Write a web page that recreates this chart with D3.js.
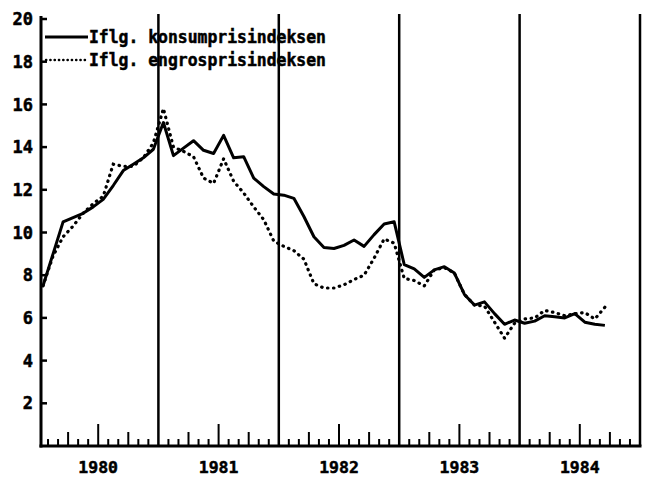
<!DOCTYPE html>
<html><head><meta charset="utf-8">
<script src="https://cdn.jsdelivr.net/npm/d3@7/dist/d3.min.js"></script>
<style>html,body{margin:0;padding:0;background:#fff}</style>
</head><body>
<svg id="c" width="650" height="482"></svg>
<script>
// ---- data ----
const years = ["1980", "1981", "1982", "1983", "1984"];
const yTickValues = [2, 4, 6, 8, 10, 12, 14, 16, 18, 20];
const legendLabels = ["Iflg. konsumprisindeksen", "Iflg. engrosprisindeksen"];
// monthly values, Jan 1980 .. Sep 1984
const konsum = [
  7.5, 9.0, 10.5, 10.7, 10.9, 11.2, 11.55, 12.2, 12.9, 13.2, 13.5, 13.9,
  15.15, 13.6, 13.95, 14.3, 13.85, 13.7, 14.55, 13.5, 13.55, 12.55, 12.15, 11.8,
  11.75, 11.6, 10.75, 9.8, 9.3, 9.25, 9.4, 9.65, 9.35, 9.9, 10.4, 10.5,
  8.5, 8.3, 7.9, 8.25, 8.4, 8.1, 7.1, 6.6, 6.75, 6.2, 5.7, 5.9,
  5.75, 5.85, 6.1, 6.05, 6.0, 6.2, 5.8, 5.7, 5.65
];
const engros = [
  7.5, 8.9, 9.8, 10.3, 10.9, 11.35, 11.7, 13.2, 13.1, 13.1, 13.5, 14.2,
  15.8, 14.0, 13.8, 13.55, 12.55, 12.3, 13.45, 12.4, 11.85, 11.2, 10.6, 9.6,
  9.35, 9.15, 8.75, 7.6, 7.4, 7.4, 7.55, 7.8, 8.0, 8.8, 9.7, 9.5,
  7.85, 7.75, 7.5, 8.25, 8.35, 8.1, 7.1, 6.6, 6.55, 5.8, 5.05, 5.75,
  5.95, 6.0, 6.35, 6.25, 6.1, 6.2, 6.25, 5.95, 6.5
];

// ---- chart ----
const svg = d3.select("#c");
const FONT = "'DejaVu Sans Mono', 'Liberation Mono', monospace";
const x = d3.scaleLinear().domain([0, 60]).range([38, 640]);
const y = d3.scaleLinear().domain([0, 20]).range([446, 19]);
const axisX = 41;

function heavy(sel) {
  return sel.attr("font-family", FONT).attr("font-weight", "bold")
    .attr("fill", "#000").attr("stroke", "#000").attr("stroke-width", 0.5);
}

// y axis
svg.append("line").attr("x1", axisX).attr("x2", axisX)
  .attr("y1", y(0) + 1.5).attr("y2", y(20) - 3)
  .attr("stroke", "#000").attr("stroke-width", 3);
svg.selectAll(".ytick").data(yTickValues).join("line")
  .attr("x1", axisX).attr("x2", axisX + 6)
  .attr("y1", d => y(d)).attr("y2", d => y(d))
  .attr("stroke", "#000").attr("stroke-width", 2.5);
heavy(svg.selectAll(".ylab").data(yTickValues).join("text")
  .attr("x", 33).attr("y", d => y(d)).attr("dy", "0.36em")
  .attr("text-anchor", "end").attr("font-size", 17))
  .text(d => d);

// x axis baseline
svg.append("line").attr("x1", axisX - 1.5).attr("x2", x(60) + 1.5)
  .attr("y1", y(0)).attr("y2", y(0))
  .attr("stroke", "#000").attr("stroke-width", 3);

// month ticks
const months = d3.range(1, 60).filter(m => m % 12 !== 0);
svg.selectAll(".mtick").data(months).join("line")
  .attr("x1", d => x(d)).attr("x2", d => x(d))
  .attr("y1", y(0)).attr("y2", d => y(0) - (d % 6 === 0 ? 22 : d % 3 === 0 ? 14 : 7))
  .attr("stroke", "#000").attr("stroke-width", 2);

// year separator lines
svg.selectAll(".yline").data(d3.range(1, 6)).join("line")
  .attr("x1", d => x(d * 12)).attr("x2", d => x(d * 12))
  .attr("y1", 14).attr("y2", y(0))
  .attr("stroke", "#000").attr("stroke-width", 2.5);

// year labels
heavy(svg.selectAll(".ylabx").data(years).join("text")
  .attr("x", (d, i) => x(i * 12 + 6)).attr("y", 473)
  .attr("text-anchor", "middle").attr("font-size", 16.5))
  .text(d => d);

// series
const line = d3.line().x((d, i) => x(i + 0.5)).y(d => y(d));
svg.append("path").datum(konsum).attr("d", line)
  .attr("fill", "none").attr("stroke", "#000").attr("stroke-width", 3)
  .attr("stroke-linejoin", "round");
svg.append("path").datum(engros).attr("d", line)
  .attr("fill", "none").attr("stroke", "#000").attr("stroke-width", 3.2)
  .attr("stroke-linecap", "round")
  .attr("stroke-dasharray", "0.5,5.5");

// legend
const legY = [37, 60];
svg.append("line").attr("x1", 45).attr("x2", 88).attr("y1", legY[0]).attr("y2", legY[0])
  .attr("stroke", "#000").attr("stroke-width", 3);
svg.append("line").attr("x1", 46).attr("x2", 88).attr("y1", legY[1]).attr("y2", legY[1])
  .attr("stroke", "#000").attr("stroke-width", 2.4).attr("stroke-linecap", "round")
  .attr("stroke-dasharray", "0.3,4");
heavy(svg.selectAll(".leg").data(legendLabels).join("text")
  .attr("x", 89).attr("y", (d, i) => legY[i] + 6).attr("font-size", 17)
  .attr("textLength", 237).attr("lengthAdjust", "spacingAndGlyphs"))
  .text(d => d);
</script>
</body></html>
